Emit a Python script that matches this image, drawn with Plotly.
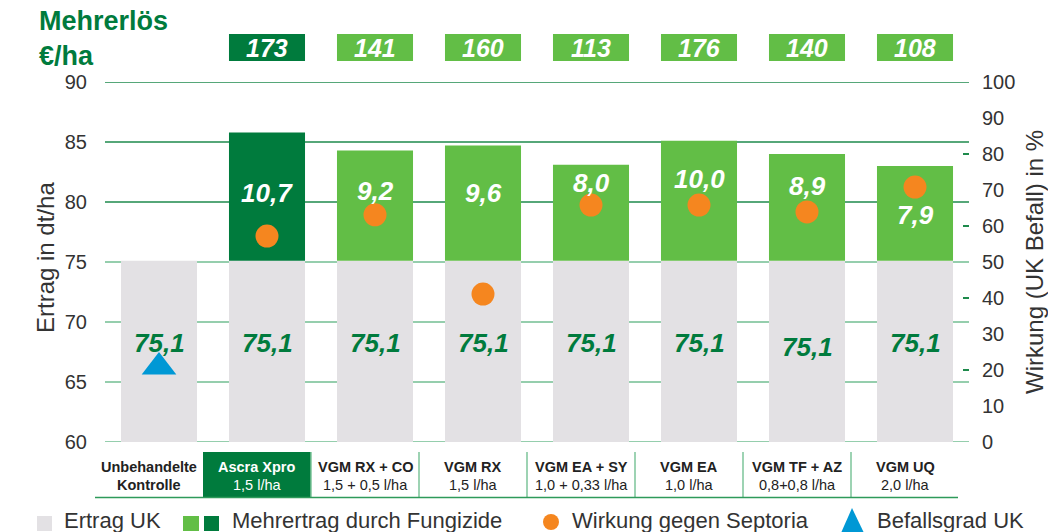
import plotly.graph_objects as go

# ---------------- data ----------------
categories = ["Unbehandelte", "Ascra Xpro", "VGM RX + CO", "VGM RX", "VGM EA + SY",
              "VGM EA", "VGM TF + AZ", "VGM UQ"]
cat_line1 = ["Unbehandelte", "Ascra Xpro", "VGM RX + CO", "VGM RX", "VGM EA + SY",
             "VGM EA", "VGM TF + AZ", "VGM UQ"]
cat_line2 = ["Kontrolle", "1,5 l/ha", "1,5 + 0,5 l/ha", "1,5 l/ha", "1,0 + 0,33 l/ha",
             "1,0 l/ha", "0,8+0,8 l/ha", "2,0 l/ha"]
ertrag_uk = [75.1, 75.1, 75.1, 75.1, 75.1, 75.1, 75.1, 75.1]
mehrertrag = [0, 10.7, 9.2, 9.6, 8.0, 10.0, 8.9, 7.9]
mehrertrag_text = ["", "10,7", "9,2", "9,6", "8,0", "10,0", "8,9", "7,9"]
wirkung = [None, 57.2, 63.1, 41.1, 65.8, 65.8, 63.9, 70.8]
befall_uk = [20.8]
mehrerloes = [None, 173, 141, 160, 113, 176, 140, 108]
left_ticks = [60, 65, 70, 75, 80, 85, 90]
right_ticks = [0, 10, 20, 30, 40, 50, 60, 70, 80, 90, 100]

# label placement (layout only)
mehr_label_y = [None, 80.75, 80.9, 80.75, 81.6, 81.9, 81.3, 78.9]
uk_label_y = [68.25, 68.25, 68.25, 68.25, 68.25, 68.25, 67.9, 68.25]

# ---------------- style ----------------
DARK = "#007B3D"
LIGHT = "#62BE46"
GRAY = "#E3E1E4"
ORANGE = "#F5861F"
BLUE = "#0098D5"
TXT = "#333333"
GRID_DARK = "#1E8A4C"
GRID_LIGHT = "#72BE92"
FONT = "Liberation Sans, Arial, sans-serif"

L, R, T, B = 105, 969, 82, 442
W, H = 1048, 532
N = len(categories)
def px(p):  # pixel x -> paper
    return (p - L) / (R - L)
def py(p):  # pixel y -> paper
    return (B - p) / (B - T)
def dx(v):  # category position -> paper
    return (v + 0.5) / N

x = list(range(N))
BW = 0.704
fig = go.Figure()

fig.add_bar(x=x, y=ertrag_uk, marker_color=GRAY, width=BW, hoverinfo="skip",
            showlegend=False, marker_line_width=0)
fig.add_bar(x=x, y=mehrertrag, width=BW, hoverinfo="skip", showlegend=False,
            marker_color=[DARK if i == 1 else LIGHT for i in x], marker_line_width=0,
            base=ertrag_uk)
fig.add_scatter(x=x, y=wirkung, yaxis="y2", mode="markers",
                marker=dict(color=ORANGE, size=23, line_width=0), showlegend=False)
fig.add_scatter(x=[0], y=befall_uk, yaxis="y2", mode="markers",
                marker=dict(color=BLUE, size=30, symbol="triangle-up", line_width=0),
                showlegend=False)

shapes = []
ann = []

def A(**kw):
    kw.setdefault("showarrow", False)
    kw.setdefault("xanchor", "center")
    kw.setdefault("yanchor", "middle")
    ann.append(kw)

# grid lines
for v in left_ticks:
    shapes.append(dict(type="line", xref="paper", yref="y", x0=0, x1=1, y0=v, y1=v,
                       line=dict(color=GRID_DARK if v >= 80 else GRID_LIGHT, width=1.6),
                       layer="below"))

# labels in bars
for i in x:
    A(x=i, y=uk_label_y[i], xref="x", yref="y",
      text="<b><i>" + f"{ertrag_uk[i]:.1f}".replace(".", ",") + "</i></b>",
      font=dict(family=FONT, size=26, color=DARK))
    if mehrertrag_text[i]:
        A(x=i, y=mehr_label_y[i], xref="x", yref="y",
          text=f"<b><i>{mehrertrag_text[i]}</i></b>",
          font=dict(family=FONT, size=26, color="white"))
    if mehrerloes[i] is not None:
        shapes.append(dict(type="rect", xref="paper", yref="paper",
                           x0=dx(i - BW / 2), x1=dx(i + BW / 2),
                           y0=py(61), y1=py(34), fillcolor=DARK if i == 1 else LIGHT,
                           line_width=0))
        A(x=dx(i), y=py(48), xref="paper", yref="paper",
          text=f"<b><i>{mehrerloes[i]}</i></b>",
          font=dict(family=FONT, size=25, color="white"))

# category table below
off = -10 / 108
shapes.append(dict(type="rect", xref="paper", yref="paper", x0=dx(0.5 + off), x1=dx(1.5 + off),
                   y0=py(497), y1=py(452), fillcolor=DARK, line_width=0))
for k in range(2, 8):
    shapes.append(dict(type="line", xref="paper", yref="paper",
                       x0=dx(k - 0.5 + off), x1=dx(k - 0.5 + off),
                       y0=py(497), y1=py(452), line=dict(color="#7CC49A", width=1.5)))
shapes.append(dict(type="line", xref="paper", yref="paper", x0=px(95), x1=px(958),
                   y0=py(497.5), y1=py(497.5), line=dict(color="#2E9A5A", width=1.5)))
for i in x:
    c = "white" if i == 1 else "#222222"
    l2 = f"<b>{cat_line2[i]}</b>" if i == 0 else cat_line2[i]
    A(x=dx(i + off), y=py(467), xref="paper", yref="paper",
      text=f"<b>{cat_line1[i]}</b>", font=dict(family=FONT, size=14.5, color=c))
    A(x=dx(i + off), y=py(484.5), xref="paper", yref="paper", text=l2,
      font=dict(family=FONT, size=14.5, color=c))

# titles
A(x=px(37), y=py(38), xref="paper", yref="paper", xanchor="left",
  align="left", text="<b>Mehrerlös<br>€/ha</b>",
  font=dict(family=FONT, size=27, color=DARK))
A(x=px(45), y=py(258), xref="paper", yref="paper", text="Ertrag in dt/ha",
  textangle=-90, font=dict(family=FONT, size=24, color=TXT))
A(x=px(1034), y=py(262), xref="paper", yref="paper",
  text="Wirkung (UK Befall) in %", textangle=-90,
  font=dict(family=FONT, size=24, color=TXT))

# legend (manual)
LY = 520
shapes.append(dict(type="rect", xref="paper", yref="paper", x0=px(37), x1=px(52),
                   y0=py(531), y1=py(516), fillcolor=GRAY, line_width=0))
shapes.append(dict(type="rect", xref="paper", yref="paper", x0=px(183), x1=px(199),
                   y0=py(531), y1=py(516), fillcolor=LIGHT, line_width=0))
shapes.append(dict(type="rect", xref="paper", yref="paper", x0=px(204), x1=px(219),
                   y0=py(531), y1=py(516), fillcolor=DARK, line_width=0))
shapes.append(dict(type="circle", xref="paper", yref="paper", x0=px(543), x1=px(559),
                   y0=py(530), y1=py(514), fillcolor=ORANGE, line_width=0))
shapes.append(dict(type="path", xref="paper", yref="paper",
                   path=f"M {px(841)} {py(533)} L {px(852)} {py(508)} L {px(864)} {py(533)} Z",
                   fillcolor=BLUE, line_width=0))
for xx, t in [(62, "Ertrag UK"), (230, "Mehrertrag durch Fungizide"),
              (570, "Wirkung gegen Septoria"), (875, "Befallsgrad UK")]:
    A(x=px(xx), y=py(LY), xref="paper", yref="paper", xanchor="left", text=t,
      font=dict(family=FONT, size=22, color=TXT))

fig.update_layout(
    width=W, height=H, barmode="overlay",
    margin=dict(l=L, r=W - R, t=T, b=H - B, autoexpand=False),
    plot_bgcolor="white", paper_bgcolor="white",
    font=dict(family=FONT, color=TXT),
    xaxis=dict(range=[-0.5, 7.5], showticklabels=False, showgrid=False, zeroline=False,
               showline=False, ticks="", fixedrange=True, automargin=False),
    yaxis=dict(range=[60, 90], tickvals=left_ticks, showgrid=False, zeroline=False,
               showline=False, ticks="outside", ticklen=13, tickcolor="rgba(0,0,0,0)",
               tickfont=dict(size=20, color=TXT, family=FONT), automargin=False),
    yaxis2=dict(range=[0, 100], overlaying="y", side="right", tickvals=right_ticks,
                showgrid=False, zeroline=False, showline=False, ticks="outside", ticklen=8,
                tickcolor="rgba(0,0,0,0)", tickfont=dict(size=20, color=TXT, family=FONT),
                automargin=False,
                minor=dict(tickvals=[20, 40, 60, 80], ticks="inside", ticklen=6,
                           tickcolor=GRID_DARK, tickwidth=1.5)),
    shapes=shapes, annotations=ann, showlegend=False,
)

fig.write_html("out.html", config={"displayModeBar": False},
               post_script="document.body.style.margin='0';document.body.style.overflow='hidden';")
